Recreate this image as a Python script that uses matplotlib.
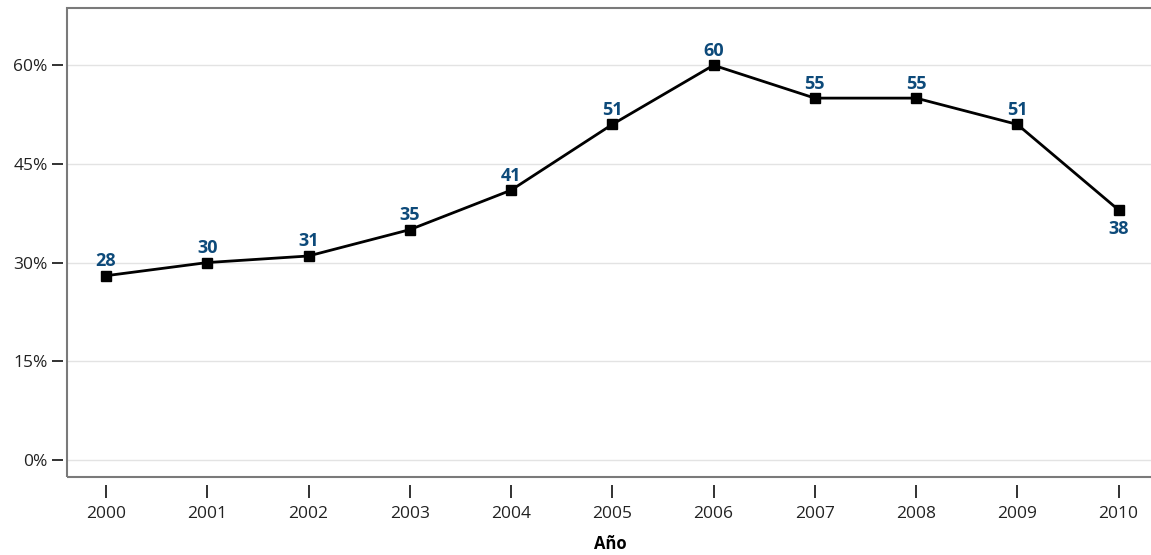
import matplotlib.pyplot as plt
from matplotlib.patches import Rectangle
from matplotlib.ticker import FuncFormatter

# data
years = [2000, 2001, 2002, 2003, 2004, 2005, 2006, 2007, 2008, 2009, 2010]
values = [28, 30, 31, 35, 41, 51, 60, 55, 55, 51, 38]
y_ticks = [0, 15, 30, 45, 60]

plt.rcParams['font.family'] = ['Open Sans', 'DejaVu Sans']

fig = plt.figure(figsize=(11.51, 5.55), dpi=100)
ax = fig.add_axes([67 / 1151, 1 - 477 / 555, 1086 / 1151, 469 / 555])

ax.plot(years, values, color='black', lw=2, marker='s', markersize=7, zorder=3)

label_color = '#0d4a7a'
for i, (x, v) in enumerate(zip(years, values)):
    if i == len(years) - 1:
        ax.annotate(str(v), (x, v), xytext=(0, -7), textcoords='offset points',
                    ha='center', va='top', fontsize=13, fontweight='bold', color=label_color)
    else:
        ax.annotate(str(v), (x, v), xytext=(0, 4), textcoords='offset points',
                    ha='center', va='bottom', fontsize=13, fontweight='bold', color=label_color)

ax.set_xlim(1999.615, 2010.34)
ax.set_ylim(-2.6, 68.7)
ax.set_xticks(years)
ax.set_yticks(y_ticks)
ax.yaxis.set_major_formatter(FuncFormatter(lambda v, _: f'{v:.0f}%'))
ax.grid(axis='y', color='#e3e3e3', lw=1)
ax.set_axisbelow(True)

# ticks detached from the frame
ax.spines['left'].set_position(('outward', 3))
ax.spines['bottom'].set_position(('outward', 6))
for s in ax.spines.values():
    s.set_visible(False)
ax.add_patch(Rectangle((0, 0), 1, 1, transform=ax.transAxes, fill=False,
                       edgecolor='#7a7a7a', lw=1.5, clip_on=False, zorder=5))

ax.tick_params(axis='y', length=8, width=1.3, color='#222222', pad=3,
               labelsize=12.5, labelcolor='#222222')
ax.tick_params(axis='x', length=9, width=1.3, color='#222222', pad=6,
               labelsize=12.5, labelcolor='#222222')
ax.set_xlabel('Año', fontsize=12, fontweight='bold', labelpad=9)

fig.savefig('out.png', dpi=100)
